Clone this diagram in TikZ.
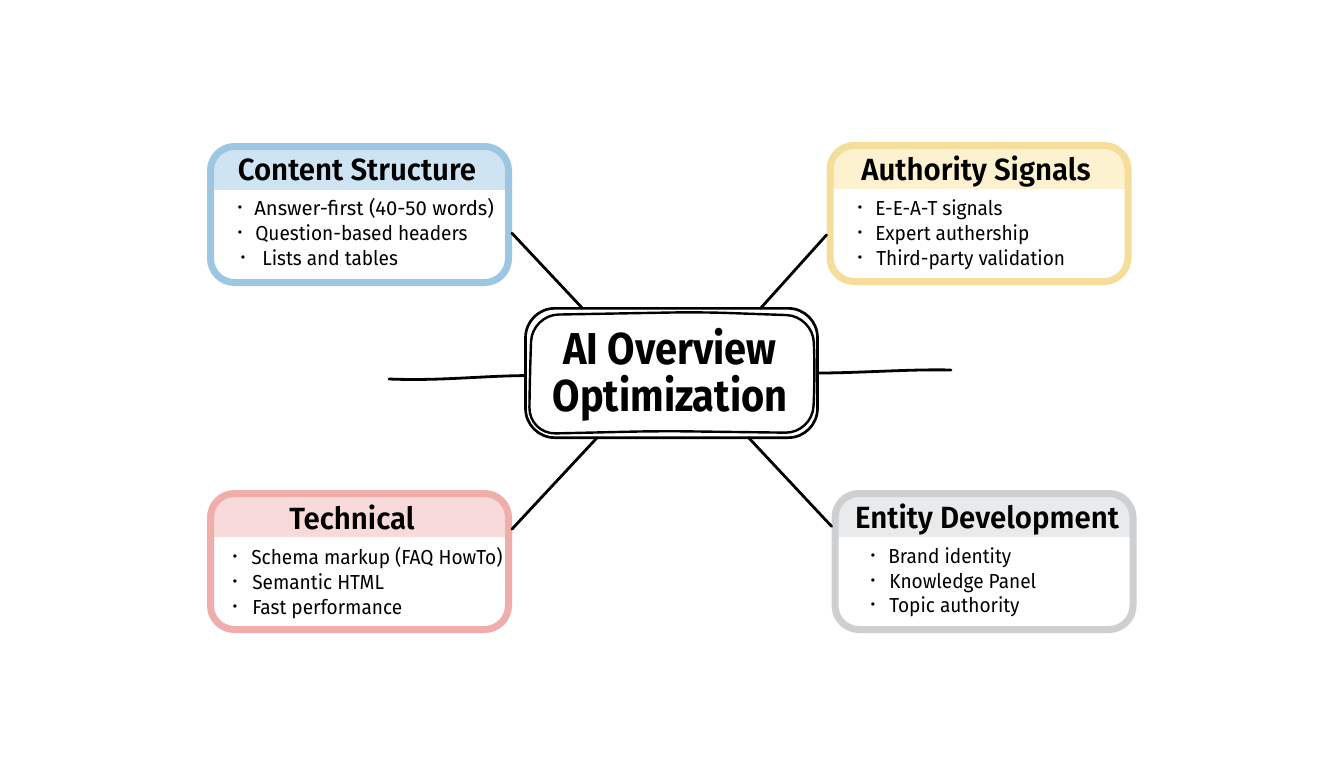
\documentclass[tikz,border=0pt]{standalone}
\usepackage{fontspec}
\setmainfont{Fira Sans}[FakeStretch=0.94]
\newfontfamily\widebody{Fira Sans}
\newfontfamily\titlefont{Fira Sans}[UprightFont=*-SemiBold,FakeStretch=0.96]
\newfontfamily\hubfont{Fira Sans}[UprightFont=*-Bold,FakeStretch=0.89]
\definecolor{blueS}{HTML}{9CC6E2}\definecolor{blueH}{HTML}{CFE4F3}
\definecolor{yellS}{HTML}{F5DE9B}\definecolor{yellH}{HTML}{FCF2CF}
\definecolor{redS}{HTML}{EFAEAA}\definecolor{redH}{HTML}{F9DADA}
\definecolor{grayS}{HTML}{CDCFD0}\definecolor{grayH}{HTML}{E9EAEB}
\tikzset{
  px/.style={x=0.75pt,y=-0.75pt},
  card/.style n args={2}{draw=#1,line width=5.25pt,fill=white,rounded corners=18pt,
    minimum width=223.5pt,minimum height=102pt,inner sep=0pt,outer sep=2.6pt,
    path picture={\fill[#2,sharp corners] ([yshift=2pt]path picture bounding box.north west)
      rectangle ([yshift=-32.6pt]path picture bounding box.north east);}},
  hub/.style={draw=black,line width=2pt,fill=white,rounded corners=22pt,
    minimum width=219pt,minimum height=97pt,inner sep=0pt,outer sep=0pt},
  sketch/.style={draw=black,line width=1.8pt,rounded corners=20pt},
  link/.style={draw=black,line width=2.1pt,line cap=round},
  title/.style={font=\titlefont\fontsize{23}{25}\selectfont,text=black,inner sep=0pt,anchor=base},
  hubtext/.style={font=\hubfont\fontsize{33.5}{36}\selectfont,text=black,inner sep=0pt,anchor=base},
  item/.style={font=\fontsize{15.2}{17}\selectfont,text=black,inner sep=0pt,anchor=base west},
  dot/.style={font=\widebody\fontsize{11}{13}\selectfont,text=black,inner sep=0pt},
}
\begin{document}
\begin{tikzpicture}[px]
\useasboundingbox[fill=white] (0,0) rectangle (1344,768);
% hub and cards
\node[hub] (hubn) at (671.5,373) {};
\draw[sketch] (532,315) -- (700,312) -- (813,316) -- (815,380) -- (812,433) -- (660,431) -- (529,434) -- (530,370) -- cycle;
\node[card={blueS}{blueH}] (cs) at (359.5,214.5) {};
\node[card={yellS}{yellH}] (as) at (979,213.5) {};
\node[card={redS}{redH}] (te) at (359.5,561.5) {};
\node[card={grayS}{grayH}] (ed) at (984,561.5) {};
% free ends
\coordinate (lf) at (389,379);
\coordinate (rf) at (951,370);
% connectors
\draw[link] (cs.-7) -- (hubn.144);
\draw[link] (as.188) -- (hubn.36);
\draw[link] (te.12) -- (hubn.221);
\draw[link] (ed.167) -- (hubn.-40);
\draw[link] (lf) .. controls (440,381) and (480,376) .. (hubn.181);
\draw[link] (hubn.east) .. controls (860,373) and (910,369) .. (rf);
% titles
\node[hubtext] (h1) at (670,364) {AI Overview};
\node[hubtext] (h2) at (670,411) {Optimization};
\node[title] (t1) at (357,180) {Content Structure};
\node[title] (t2) at (976,180) {Authority Signals};
\node[title] (t3) at (352,529) {Technical};
\node[title] (t4) at (987,528) {Entity Development};
% content structure
\node[dot] (b11) at (240,209) {•}; \node[item,font=\widebody\fontsize{15.2}{17}\selectfont] (i11) at (254,215) {Answer-first (40-50 words)};
\node[dot] (b12) at (240,234) {•}; \node[item] (i12) at (255,240) {Question-based headers};
\node[dot] (b13) at (243,259) {•}; \node[item] (i13) at (262,265) {Lists and tables};
% authority
\node[dot] (b21) at (860,209) {•}; \node[item] (i21) at (875,215) {E-E-A-T signals};
\node[dot] (b22) at (860,234) {•}; \node[item] (i22) at (875,240) {Expert authership};
\node[dot] (b23) at (860,259) {•}; \node[item] (i23) at (876,265) {Third-party validation};
% technical
\node[dot] (b31) at (235,558) {•}; \node[item] (i31) at (251,564) {Schema markup (FAQ HowTo)};
\node[dot] (b32) at (235,583) {•}; \node[item] (i32) at (252,589) {Semantic HTML};
\node[dot] (b33) at (235,608) {•}; \node[item] (i33) at (252,614) {Fast performance};
% entity
\node[dot] (b41) at (873,557) {•}; \node[item] (i41) at (888,563) {Brand identity};
\node[dot] (b42) at (873,582) {•}; \node[item] (i42) at (889,588) {Knowledge Panel};
\node[dot] (b43) at (873,606) {•}; \node[item] (i43) at (889,612) {Topic authority};
\end{tikzpicture}
\end{document}
